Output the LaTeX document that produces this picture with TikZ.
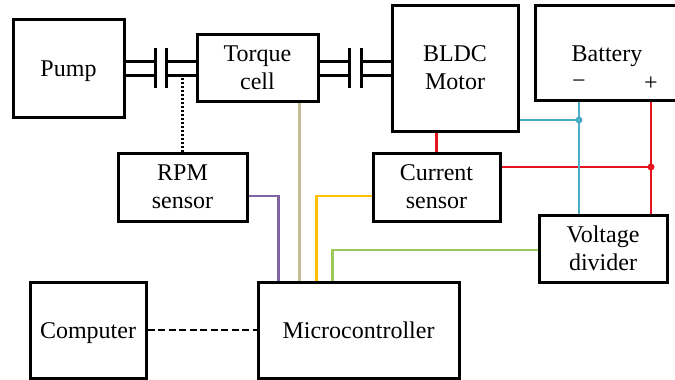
\documentclass[tikz,border=0pt]{standalone}
\usepackage{fontspec}
\setmainfont{Liberation Serif}
\usetikzlibrary{calc}

\definecolor{wireblue}{RGB}{75,172,198}
\definecolor{wirered}{RGB}{230,20,30}
\definecolor{wirepurple}{RGB}{128,100,162}
\definecolor{wiretan}{RGB}{196,189,151}
\definecolor{wireyellow}{RGB}{255,192,0}
\definecolor{wiregreen}{RGB}{155,200,90}

\begin{document}
\begin{tikzpicture}[x=1pt,y=-1pt,
  box/.style={draw,line width=3pt,align=center,inner sep=0pt,
    font=\fontsize{24}{28}\selectfont,
    execute at begin node={\rule{0pt}{#1}},
    execute at end node={\rule[-8pt]{0pt}{8pt}}},
  box/.default=25.5pt,
  sign/.style={inner sep=0pt,font=\fontsize{24}{28}\selectfont},
  shaft/.style={line width=3pt},
  wire/.style={line width=2.2pt}]
  \useasboundingbox (0,0) rectangle (675,380);
  % blocks
  \node[box,minimum width=111pt,minimum height=98pt] (pump) at (68.5,68) {Pump};
  \node[box=51pt,minimum width=121pt,minimum height=67pt] (torque) at (257.5,67.5) {Torque\\cell};
  \node[box=51pt,minimum width=126pt,minimum height=126pt] (bldc) at (455,68) {BLDC\\Motor};
  \node[box,minimum width=144pt,minimum height=95pt] (battery) at (607,52.5) {Battery};
  \node[sign] (neg) at (579,84) {−};
  \node[sign] (pos) at (651,84) {+};
  \node[box=51pt,minimum width=129pt,minimum height=68pt] (rpm) at (182.5,187) {RPM\\sensor};
  \node[box=51pt,minimum width=127pt,minimum height=68pt] (current) at (436.5,187) {Current\\sensor};
  \node[box=51pt,minimum width=128pt,minimum height=67pt] (vdiv) at (603,248.5) {Voltage\\divider};
  \node[box,minimum width=116pt,minimum height=96pt] (computer) at (88,330) {Computer};
  \node[box,minimum width=201pt,minimum height=96pt] (micro) at (358.5,330) {Microcontroller};
  % couplings
  \coordinate (c1a) at (155,68);
  \coordinate (c1b) at (166,68);
  \coordinate (c2a) at (349,68);
  \coordinate (c2b) at (361,68);
  \foreach \d in {-7,7} {
    \draw[shaft] ([yshift=\d]pump.east |- c1a) -- ([yshift=\d]c1a);
    \draw[shaft] ([yshift=\d]c1b) -- ([yshift=\d]torque.west |- c1b);
    \draw[shaft] ([yshift=\d]torque.east |- c2a) -- ([yshift=\d]c2a);
    \draw[shaft] ([yshift=\d]c2b) -- ([yshift=\d]bldc.west |- c2b);
  }
  \foreach \c in {c1a,c1b,c2a,c2b}
    \draw[shaft] ([yshift=20]\c) -- ([yshift=-20]\c);
  \coordinate (tap) at ([yshift=-7]c1b);
  \draw[line width=2.5pt,dash pattern=on 2pt off 2pt] (rpm.north) -- (rpm.north |- tap);
  % signals to the microcontroller
  \draw[wire,wirepurple] ([yshift=-9]rpm.east) -| ([xshift=22]micro.north west);
  \draw[wire,wiretan] ([xshift=43]micro.north west) coordinate (t0) -- (t0 |- torque.south);
  \draw[wire,wireyellow] ([yshift=-9]current.west) -| ([xshift=60]micro.north west);
  \draw[wire,wiregreen] ([yshift=-1.5]vdiv.west) -| ([xshift=76]micro.north west);
  \draw[line width=2.5pt,dash pattern=on 7pt off 3.5pt] (computer.east) -- (micro.west);
  % power
  \draw[wire,wirered] (current.north) -- (current.north |- bldc.south);
  \draw[wire,wirered] (battery.south -| pos) -- (vdiv.north -| pos);
  \draw[wire,wirered] ([yshift=20]current.east) coordinate (r0) -- (r0 -| pos) coordinate (rdot);
  \fill[wirered] (rdot) circle (3.5);
  \draw[wire,wireblue] (battery.south -| neg) -- (vdiv.north -| neg);
  \draw[wire,wireblue] ([yshift=-52]bldc.east) coordinate (b0) -- (b0 -| neg) coordinate (bdot);
  \fill[wireblue] (bdot) circle (3.5);
\end{tikzpicture}
\end{document}
